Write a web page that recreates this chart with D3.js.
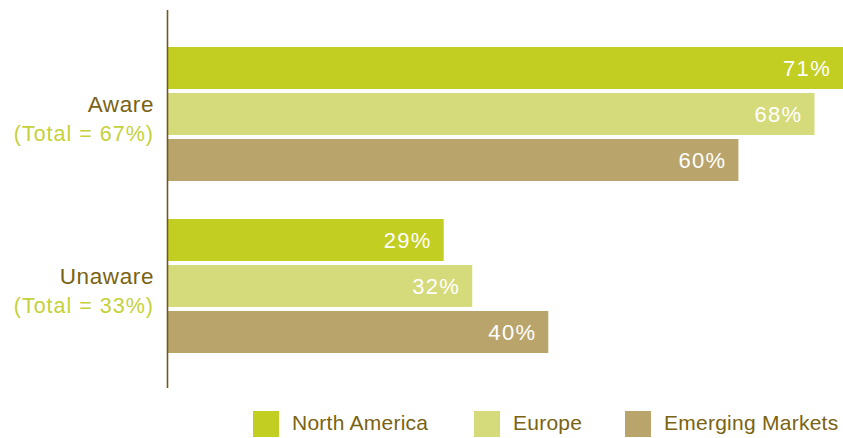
<!DOCTYPE html>
<html>
<head>
<meta charset="utf-8">
<script src="https://cdn.jsdelivr.net/npm/d3@7"></script>
<style>
  html, body { margin: 0; padding: 0; background: #fff; }
  svg { display: block; font-family: "Liberation Sans", Arial, Helvetica, sans-serif; }
</style>
</head>
<body>
<svg id="chart" width="843" height="438"></svg>
<script>
// Awareness share by region
const categories = ["Aware", "Unaware"];
const categoryTotals = ["(Total = 67%)", "(Total = 33%)"];
const seriesNames = ["North America", "Europe", "Emerging Markets"];
const northAmerica = [71, 29];
const europe = [68, 32];
const emergingMarkets = [60, 40];

const seriesColors = ["#c3ce22", "#d5db7a", "#b9a56c"];
const textDark = "#7a6312";
const textLight = "#c5d13a";

const svg = d3.select("#chart");

const values = [northAmerica, europe, emergingMarkets];
const rows = categories.flatMap((c, ci) =>
  seriesNames.map((s, si) => ({ category: c, series: s, si, value: values[si][ci] })));

const x = d3.scaleLinear().domain([0, 71]).range([168, 843]);

const y0 = d3.scaleBand()
  .domain(categories)
  .range([28, 372])
  .paddingInner(38 / 172)
  .paddingOuter(19 / 172);

const y1 = d3.scaleBand()
  .domain(seriesNames)
  .range([0, y0.bandwidth()])
  .paddingInner(4 / 46)
  .paddingOuter(0);

// bars
svg.append("g").selectAll("rect")
  .data(rows)
  .join("rect")
  .attr("x", x(0))
  .attr("y", d => y0(d.category) + y1(d.series))
  .attr("width", d => x(d.value) - x(0))
  .attr("height", y1.bandwidth())
  .attr("fill", d => seriesColors[d.si]);

// value labels inside bar ends
svg.append("g").selectAll("text")
  .data(rows)
  .join("text")
  .attr("x", d => x(d.value) - 12)
  .attr("y", d => y0(d.category) + y1(d.series) + y1.bandwidth() / 2 + 8)
  .attr("text-anchor", "end")
  .attr("fill", "#fff")
  .attr("font-size", 22)
  .attr("letter-spacing", 1.3)
  .text(d => d.value + "%");

// vertical axis line
svg.append("line")
  .attr("x1", 167.5).attr("x2", 167.5)
  .attr("y1", 10).attr("y2", 388)
  .attr("stroke", "#6e5b1c")
  .attr("stroke-width", 1.6);

// category labels
const catG = svg.append("g").selectAll("g")
  .data(categories)
  .join("g")
  .attr("transform", d => `translate(154, ${y0(d) + y0.bandwidth() / 2})`);

catG.append("text")
  .attr("text-anchor", "end")
  .attr("y", -2)
  .attr("fill", textDark)
  .attr("font-size", 22.5)
  .attr("letter-spacing", 0.6)
  .text(d => d);

catG.append("text")
  .attr("text-anchor", "end")
  .attr("y", 27)
  .attr("fill", textLight)
  .attr("font-size", 21.5)
  .attr("letter-spacing", 1)
  .text((d, i) => categoryTotals[i]);

// legend
const legendX = [253, 474, 625];
const legend = svg.append("g").selectAll("g")
  .data(seriesNames)
  .join("g")
  .attr("transform", (d, i) => `translate(${legendX[i]}, 411)`);

legend.append("rect")
  .attr("width", 26)
  .attr("height", 26)
  .attr("fill", (d, i) => seriesColors[i]);

legend.append("text")
  .attr("x", 39)
  .attr("y", 19)
  .attr("fill", textDark)
  .attr("font-size", 21)
  .attr("letter-spacing", 0.25)
  .text(d => d);
</script>
</body>
</html>
